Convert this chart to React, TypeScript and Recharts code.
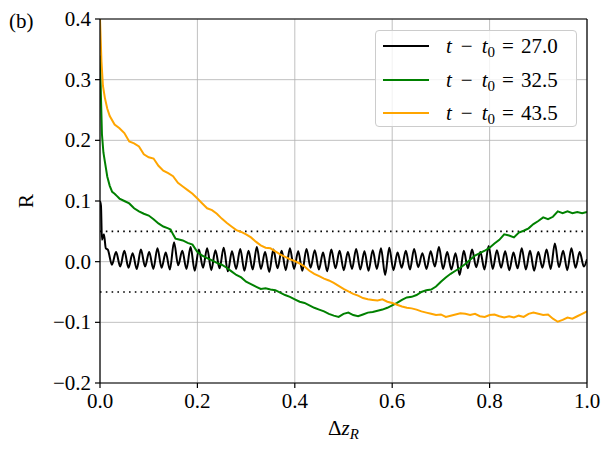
import React from 'react';
import { LineChart, Line, XAxis, YAxis, CartesianGrid, ReferenceLine } from 'recharts';

const xTicks = [0, 0.2, 0.4, 0.6, 0.8, 1.0];
const yTicks = [-0.2, -0.1, 0, 0.1, 0.2, 0.3, 0.4];
const thresholds = [0.05, -0.05];

const seriesNames = ['27.0', '32.5', '43.5'];
const seriesColors = ['#000000', '#008000', '#ffa500'];

// black (t - t0 = 27.0): initial spike then oscillation
const blackHeadX = [0, 0.002, 0.004, 0.008, 0.012];
const blackHeadY = [0.1, 0.092, 0.036, 0.045, 0.022];
const blackStep = 0.0085;
const blackStart = 0.016;
const blackOsc = [
  0.020, -0.005, 0.016, -0.008, 0.018, -0.010, 0.014, -0.012, 0.020, -0.008,
  0.016, -0.012, 0.022, -0.010, 0.015, -0.013, 0.032, -0.006, 0.018, -0.012,
  0.024, -0.015, 0.020, -0.010, 0.022, -0.014, 0.019, -0.011, 0.023, -0.016,
  0.017, -0.012, 0.021, -0.015, 0.018, -0.013, 0.024, -0.012, 0.016, -0.017,
  0.020, -0.011, 0.018, -0.014, 0.022, -0.012, 0.017, -0.015, 0.021, -0.010,
  0.019, -0.013, 0.015, -0.016, 0.020, -0.011, 0.018, -0.014, 0.016, -0.012,
  0.021, -0.013, 0.017, -0.015, 0.019, -0.012, 0.022, -0.022, 0.023, -0.014,
  0.015, -0.010, 0.018, -0.013, 0.021, -0.009, 0.014, -0.012, 0.017, -0.008,
  0.024, -0.012, 0.016, -0.013, 0.014, -0.022, 0.018, -0.011, 0.020, -0.009,
  0.016, -0.013, 0.026, -0.012, 0.019, -0.010, 0.017, -0.014, 0.015, -0.011,
  0.022, -0.013, 0.018, -0.015, 0.016, -0.010, 0.020, -0.012, 0.030, -0.009,
  0.018, -0.014, 0.022, -0.010, 0.016, -0.008,
];
const blackEnd = 0.004;

// green (t - t0 = 32.5)
const greenX = [
  0, 0.002, 0.004, 0.007, 0.01, 0.015, 0.02, 0.025, 0.03, 0.035, 0.04,
  0.05, 0.06, 0.07, 0.08, 0.09, 0.10, 0.11, 0.12, 0.13, 0.14, 0.145, 0.15, 0.155,
  0.16, 0.17, 0.18, 0.19, 0.20, 0.21, 0.22, 0.23, 0.24, 0.25, 0.26, 0.27, 0.28, 0.29,
  0.30, 0.31, 0.32, 0.33, 0.34, 0.35, 0.36, 0.37, 0.38, 0.39, 0.40, 0.41, 0.42, 0.43,
  0.44, 0.45, 0.46, 0.47, 0.48, 0.49, 0.50, 0.51, 0.52, 0.53, 0.54, 0.55, 0.56, 0.57,
  0.58, 0.59, 0.60, 0.61, 0.62, 0.63, 0.64, 0.65, 0.66, 0.67, 0.68, 0.69, 0.70, 0.71,
  0.72, 0.73, 0.74, 0.75, 0.76, 0.77, 0.78, 0.79, 0.80, 0.81, 0.82, 0.83, 0.84, 0.85,
  0.86, 0.87, 0.88, 0.89, 0.90, 0.91, 0.92, 0.93, 0.94, 0.95, 0.96, 0.97, 0.98, 0.99, 1.0,
];
const greenY = [
  0.34, 0.27, 0.21, 0.18, 0.165, 0.14, 0.125, 0.115, 0.112, 0.108, 0.104,
  0.100, 0.096, 0.088, 0.083, 0.079, 0.076, 0.070, 0.063, 0.058, 0.055, 0.053, 0.045, 0.038,
  0.037, 0.035, 0.031, 0.028, 0.016, 0.010, 0.006, 0.002, -0.002, -0.005, -0.010, -0.016, -0.022, -0.026,
  -0.033, -0.037, -0.041, -0.045, -0.044, -0.046, -0.047, -0.051, -0.055, -0.058, -0.062, -0.066, -0.068, -0.072,
  -0.076, -0.079, -0.082, -0.086, -0.089, -0.091, -0.086, -0.084, -0.088, -0.090, -0.087, -0.084, -0.083, -0.081,
  -0.079, -0.076, -0.072, -0.068, -0.063, -0.059, -0.058, -0.055, -0.050, -0.047, -0.046, -0.041, -0.033, -0.026,
  -0.020, -0.015, -0.010, -0.004, 0.003, 0.010, 0.014, 0.018, 0.023, 0.030, 0.036, 0.045, 0.043, 0.040,
  0.048, 0.051, 0.055, 0.062, 0.067, 0.073, 0.070, 0.074, 0.083, 0.080, 0.083, 0.080, 0.082, 0.080, 0.082,
];

// orange (t - t0 = 43.5)
const orangeX = [
  0, 0.003, 0.006, 0.01, 0.015, 0.02, 0.03, 0.04, 0.05, 0.06, 0.07, 0.08, 0.09,
  0.10, 0.11, 0.12, 0.13, 0.14, 0.15, 0.16, 0.17, 0.18, 0.19, 0.20, 0.21, 0.22, 0.23,
  0.24, 0.25, 0.26, 0.27, 0.28, 0.29, 0.30, 0.31, 0.32, 0.33, 0.34, 0.35, 0.36, 0.37,
  0.38, 0.39, 0.40, 0.41, 0.42, 0.43, 0.44, 0.45, 0.46, 0.47, 0.48, 0.49, 0.50, 0.51,
  0.52, 0.53, 0.54, 0.55, 0.56, 0.57, 0.58, 0.59, 0.60, 0.61, 0.62, 0.63, 0.64, 0.65,
  0.66, 0.67, 0.68, 0.69, 0.70, 0.71, 0.72, 0.73, 0.74, 0.75, 0.76, 0.77, 0.78, 0.79,
  0.80, 0.81, 0.82, 0.83, 0.84, 0.85, 0.86, 0.87, 0.88, 0.89, 0.90, 0.91, 0.92, 0.93,
  0.94, 0.95, 0.96, 0.97, 0.98, 0.99, 1.0,
];
const orangeY = [
  0.40, 0.33, 0.29, 0.27, 0.252, 0.240, 0.226, 0.220, 0.212, 0.198, 0.195, 0.190, 0.177,
  0.172, 0.170, 0.158, 0.150, 0.146, 0.141, 0.130, 0.124, 0.118, 0.112, 0.104, 0.096, 0.088, 0.085,
  0.079, 0.071, 0.064, 0.058, 0.052, 0.049, 0.045, 0.040, 0.033, 0.027, 0.023, 0.022, 0.017, 0.012,
  0.008, 0.004, 0.001, -0.003, -0.008, -0.015, -0.020, -0.024, -0.028, -0.031, -0.035, -0.040, -0.045, -0.049,
  -0.053, -0.056, -0.060, -0.062, -0.063, -0.064, -0.062, -0.066, -0.068, -0.071, -0.074, -0.076, -0.077, -0.079,
  -0.082, -0.084, -0.086, -0.088, -0.087, -0.091, -0.089, -0.087, -0.085, -0.086, -0.088, -0.086, -0.090, -0.091,
  -0.088, -0.087, -0.090, -0.092, -0.090, -0.092, -0.089, -0.091, -0.086, -0.084, -0.086, -0.088, -0.087, -0.094,
  -0.099, -0.096, -0.092, -0.094, -0.090, -0.086, -0.082,
];

const blackData = [
  ...blackHeadX.map((x, i) => ({ x, y: blackHeadY[i] })),
  ...blackOsc.map((y, i) => ({ x: blackStart + i * blackStep, y })),
  { x: 1.0, y: blackEnd },
];
const greenData = greenX.map((x, i) => ({ x, y: greenY[i] }));
const orangeData = orangeX.map((x, i) => ({ x, y: orangeY[i] }));
const allData = [blackData, greenData, orangeData];

const FONT = "'Liberation Serif', 'Times New Roman', serif";

const fmt = (v: number) => (v < 0 ? '\u2212' + Math.abs(v).toFixed(1) : v.toFixed(1));

const XTick = (props: any) => {
  const { x, y, payload } = props;
  return (
    <text x={x} y={y + 17} textAnchor="middle" style={{ fontFamily: FONT, fontSize: 21 }} fill="#000">
      {fmt(payload.value)}
    </text>
  );
};

const YTick = (props: any) => {
  const { x, y, payload } = props;
  return (
    <text x={x} y={y + 7} textAnchor="end" style={{ fontFamily: FONT, fontSize: 21 }} fill="#000">
      {fmt(payload.value)}
    </text>
  );
};

const LegendBox = () => (
  <div
    style={{
      position: 'absolute',
      left: 375,
      top: 30,
      boxSizing: 'border-box',
      width: 202,
      height: 97,
      border: '1px solid #cccccc',
      borderRadius: 4,
      background: 'rgba(255,255,255,0.8)',
      fontFamily: FONT,
      fontSize: 21,
      color: '#000',
    }}
  >
    {seriesNames.map((name, i) => (
      <div key={name} style={{ position: 'absolute', left: 0, top: 2 + i * 33.5, height: 26, width: 200 }}>
        <div style={{ position: 'absolute', left: 7, top: 12, width: 46, height: 2, background: seriesColors[i] }} />
        <div style={{ position: 'absolute', left: 70, top: 0, lineHeight: '26px', whiteSpace: 'nowrap', fontFamily: FONT }}>
          <i>t</i>
          <span style={{ margin: '0 9px' }}>{'\u2212'}</span>
          <i>t</i>
          <span style={{ fontSize: 15, position: 'relative', top: 4 }}>0</span>
          <span style={{ margin: '0 7px' }}>=</span>
          {name}
        </div>
      </div>
    ))}
  </div>
);

export default function App() {
  return (
    <div style={{ position: 'absolute', left: 0, top: 0, width: 610, height: 452, background: '#fff', fontFamily: FONT }}>
      <div style={{ position: 'absolute', left: 9, top: 7, fontFamily: FONT, fontSize: 21, lineHeight: '28px' }}>(b)</div>
      <LineChart width={610} height={452} margin={{ top: 19, right: 23, bottom: 19, left: 20 }}>
        <CartesianGrid stroke="#b0b0b0" strokeWidth={0.8} />
        <XAxis
          type="number"
          dataKey="x"
          domain={[0, 1]}
          ticks={xTicks}
          allowDataOverflow
          height={50}
          tickSize={5}
          tickMargin={3}
          stroke="#000"
          strokeWidth={1.2}
          tick={<XTick />}
          label={{
            content: (props: any) => {
              const vb = props.viewBox;
              return (
                <text x={vb.x + vb.width / 2} y={vb.y + 52} textAnchor="middle" style={{ fontFamily: FONT, fontSize: 21 }} fill="#000">
                  <tspan>Δ</tspan>
                  <tspan fontStyle="italic">z</tspan>
                  <tspan fontStyle="italic" fontSize={15} dy={4}>R</tspan>
                </text>
              );
            },
          }}
        />
        <YAxis
          type="number"
          dataKey="y"
          domain={[-0.2, 0.4]}
          ticks={yTicks}
          allowDataOverflow
          width={80}
          tickSize={5}
          tickMargin={4}
          stroke="#000"
          strokeWidth={1.2}
          tick={<YTick />}
          label={{
            content: (props: any) => {
              const vb = props.viewBox;
              const cx = vb.x + 13;
              const cy = vb.y + vb.height / 2;
              return (
                <text x={cx} y={cy} textAnchor="middle" style={{ fontFamily: FONT, fontSize: 21 }} fill="#000" transform={`rotate(-90, ${cx}, ${cy})`}>
                  R
                </text>
              );
            },
          }}
        />
        {thresholds.map((t) => (
          <ReferenceLine key={t} y={t} stroke="#000" strokeWidth={1.6} strokeDasharray="1.6 4.2" />
        ))}
        {allData.map((d, i) => (
          <Line
            key={seriesNames[i]}
            data={d}
            dataKey="y"
            type={i === 0 ? 'monotone' : 'linear'}
            stroke={seriesColors[i]}
            strokeWidth={2}
            dot={false}
            activeDot={false}
            isAnimationActive={false}
          />
        ))}
        <ReferenceLine y={0.4} stroke="#000" strokeWidth={1.2} />
        <ReferenceLine x={1} stroke="#000" strokeWidth={1.2} />
      </LineChart>
      <LegendBox />
    </div>
  );
}
